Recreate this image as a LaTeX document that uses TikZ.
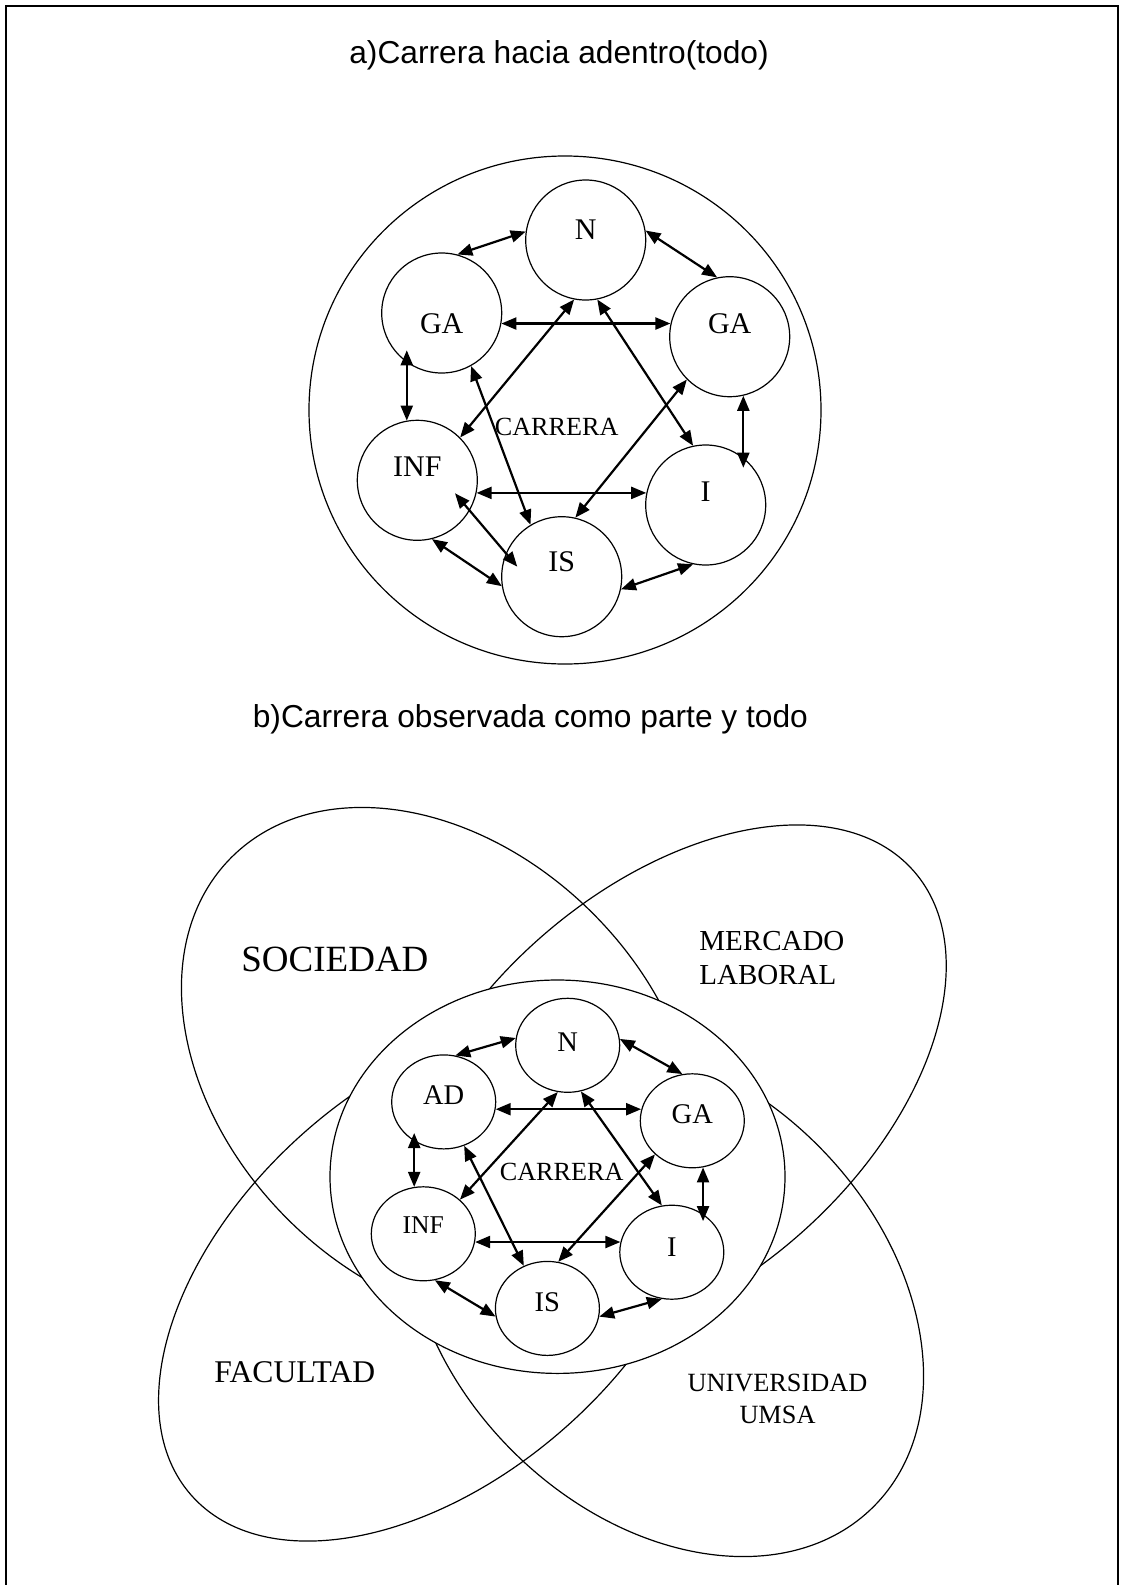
\documentclass[tikz,border=0pt]{standalone}
\usepackage{fontspec}
\setmainfont{Liberation Serif}
\newfontfamily\titulo{Liberation Sans}
\usepackage{tikz}
\usetikzlibrary{arrows.meta, shapes, calc}

\begin{document}
\begin{tikzpicture}[x=0.5pt,y=-0.5pt,
  linea/.style={line width=0.6pt},
  texto/.style={inner sep=0pt},
  circa/.style={circle, draw, line width=0.6pt, minimum size=60pt, inner sep=0pt},
  circb/.style={ellipse, draw, line width=0.6pt, minimum width=52pt, minimum height=47pt, inner sep=0pt},
  flecha/.style={line width=1.1pt, {Triangle[length=7.5pt,width=6pt]}-{Triangle[length=7.5pt,width=6pt]}}]
\useasboundingbox (0,0) rectangle (1121,1585);
\draw[line width=0.75pt] (6,1585) -- (6,6) -- (1118,6) -- (1118,1585);

% a) carrera hacia adentro
\node[texto, font=\titulo\fontsize{15.85}{19}\selectfont, anchor=base] (tita) at (559,63.3) {a)Carrera hacia adentro(todo)};
\draw[linea] (565,410) ellipse [x radius=256, y radius=254];
\node[font=\fontsize{13.1}{16}\selectfont] (acar) at (556.7,426.7) {CARRERA};
\foreach \n/\x/\y/\t/\s in {aN/585.7/240/N/10.5, aGAl/441.7/313/GA/-10.3, aGAr/729.7/336.7/GA/13.4,
  aINF/417.3/480.3/INF/14, aI/705.7/505/I/13.8, aIS/561.7/576.7/IS/15}
  \node[circa, label={[name=t\n, font=\fontsize{15}{18}\selectfont, yshift=\s*0.5pt]center:\t}] (\n) at (\x,\y) {};
\draw[flecha] (aN.172.5) -- (aGAl.75.9);
\draw[flecha] (aN.9.3) -- (aGAr.102.1);
\draw[flecha] (aGAl.-10.1) -- (aGAl.-10.1 -| aGAr.168.1);
\draw[flecha] (aGAl.-142 -| aINF.100.7) -- (aINF.100.7);
\draw[flecha] (aN.-101.9) -- (aINF.45.2);
\draw[flecha] (aN.-79) -- (aI.102.2);
\draw[flecha] (aGAl.-61.4) -- (aIS.121.3);
\draw[flecha] (aGAr.-135.3) -- (aIS.77.8);
\draw[flecha] (aGAr.-77.5) -- (aGAr.-77.5 |- aI.38);
\draw[flecha] (aINF.-12) -- (aINF.-12 -| aI.169.2);
\draw[flecha] ($(aINF)+(37.7,13)$) -- ($(aIS)+(-44.4,-10)$);
\draw[flecha] (aINF.-76.6) -- (aIS.189.9);
\draw[flecha] (aIS.-12.6) -- (aI.-102.2);

% b) carrera como parte y todo
\node[texto, font=\titulo\fontsize{15.85}{19}\selectfont, anchor=base east] (titb) at (808.3,727) {b)Carrera observada como parte y todo};
\draw[linea, rotate around={-45:(440,1066)}] (440,1066) ellipse [x radius=295, y radius=216];
\draw[linea, rotate around={41.5:(670,1086)}] (670,1086) ellipse [x radius=325, y radius=197];
\draw[linea, rotate around={41.5:(434.8,1280)}] (434.8,1280) ellipse [x radius=325, y radius=197];
\draw[linea, rotate around={-45:(665,1298)}] (665,1298) ellipse [x radius=295, y radius=216];
\draw[linea, fill=white] (557.5,1176.7) ellipse [x radius=227.5, y radius=196.7];
\node[texto, font=\fontsize{18.5}{22}\selectfont, anchor=base west] (soc) at (241,971.7) {SOCIEDAD};
\node[texto, font=\fontsize{14.5}{17}\selectfont, anchor=base west] (mer1) at (699,950) {MERCADO};
\node[texto, font=\fontsize{14.5}{17}\selectfont, anchor=base west] (mer2) at (699,984) {LABORAL};
\node[texto, font=\fontsize{15.8}{19}\selectfont, anchor=base west] (fac) at (214,1382.7) {FACULTAD};
\node[texto, font=\fontsize{13.15}{16}\selectfont, anchor=base] (uni1) at (777.5,1391.7) {UNIVERSIDAD};
\node[texto, font=\fontsize{13.15}{16}\selectfont, anchor=base] (uni2) at (777.5,1423.3) {UMSA};
\node[font=\fontsize{13.1}{16}\selectfont] (bcar) at (561.7,1171.7) {CARRERA};
\foreach \n/\x/\y/\t/\s/\f in {bN/567.7/1045.3/N/3.6/14.25, bAD/443.7/1101.9/AD/6.9/14.25, bGA/692.3/1120.8/GA/6.6/14.25,
  bINF/423.3/1233.8/INF/8.8/12.8, bI/671.8/1252.2/I/5.5/14.25, bIS/547.4/1308.4/IS/5.9/14.25}
  \node[circb, label={[name=t\n, font=\fontsize{\f}{\f}\selectfont, yshift=\s*0.5pt]center:\t}] (\n) at (\x,\y) {};
\draw[flecha] (bN.172.4) -- (bAD.76.2);
\draw[flecha] (bN.7.5) -- (bGA.102.6);
\draw[flecha] (bAD.-8.7) -- (bAD.-8.7 -| bGA.168.5);
\draw[flecha] (bAD.-142 -| bINF.101.6) -- (bINF.101.6);
\draw[flecha] (bN.-102.9) -- (bINF.43.7);
\draw[flecha] (bN.-74.5) -- (bI.102.8);
\draw[flecha] (bAD.-65.8) -- (bIS.119.7);
\draw[flecha] (bGA.-138.4) -- (bIS.77.3);
\draw[flecha] (bGA.-77.7) -- (bGA.-77.7 |- bI.38);
\draw[flecha] (bINF.-9.8) -- (bINF.-9.8 -| bI.169.7);
\draw[flecha] (bINF.-76) -- (bIS.189.1);
\draw[flecha] (bIS.-9) -- (bI.-102.8);
\end{tikzpicture}
\end{document}
